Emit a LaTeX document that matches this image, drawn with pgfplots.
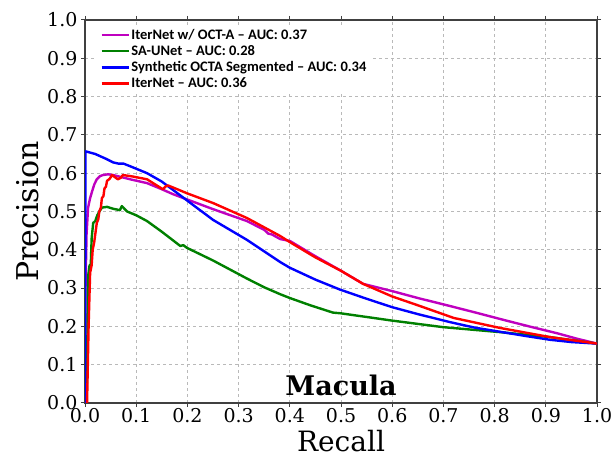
\documentclass[border=0pt]{standalone}
\usepackage{fontspec}
\setmainfont{DejaVu Serif}
\newfontfamily\legfont{Carlito}
\usepackage{pgfplots}
\pgfplotsset{compat=1.18}
\definecolor{mplmag}{rgb}{0.75,0,0.75}
\definecolor{mplgreen}{rgb}{0,0.5,0}

\begin{document}
\begin{tikzpicture}
\begin{axis}[
  width=512pt, height=383pt, scale only axis,
  xmin=0, xmax=1, ymin=0, ymax=1,
  xtick={0,0.1,0.2,0.3,0.4,0.5,0.6,0.7,0.8,0.9,1.0},
  ytick={0,0.1,0.2,0.3,0.4,0.5,0.6,0.7,0.8,0.9,1.0},
  /pgf/number format/assume math mode=true,
  /pgf/number format/fixed, /pgf/number format/fixed zerofill,
  /pgf/number format/precision=1,
  ticklabel style={font=\fontsize{19}{19}\selectfont},
  xticklabel style={yshift=2pt},
  tick align=outside, major tick length=4pt,
  tick style={black!75, line width=1pt},
  axis line style={black!75, line width=1.3pt},
  grid=major, grid style={dashed, gray!55, line width=0.8pt},
  xlabel={Recall}, ylabel={Precision},
  label style={font=\fontsize{28}{28}\selectfont},
  ylabel style={font=\fontsize{30}{30}\selectfont, yshift=1pt},
  legend style={at={(0.024,0.985)}, anchor=north west, draw=none, fill=white,
    font=\legfont\bfseries\fontsize{14.5}{15}\selectfont, row sep=1.5pt,
    nodes={inner sep=1.5pt}},
  legend cell align=left,
  legend image code/.code={\draw[#1, line width=2.4pt] (0pt,0pt) -- (27pt,0pt);},
  every axis plot/.append style={line width=2.4pt, line join=round},
]
\addplot[mplmag] coordinates {
(0,0)(0.001,0.30)(0.003,0.44)(0.006,0.51)(0.010,0.535)(0.014,0.553)(0.018,0.57)
(0.023,0.584)(0.029,0.592)(0.035,0.595)(0.045,0.597)(0.055,0.595)(0.07,0.59)
(0.088,0.584)(0.121,0.574)(0.15,0.558)(0.172,0.545)(0.21,0.526)(0.25,0.506)
(0.316,0.475)(0.35,0.452)(0.358,0.442)(0.365,0.44)(0.381,0.428)(0.40,0.423)
(0.45,0.383)(0.50,0.345)(0.543,0.311)(0.60,0.292)(0.65,0.274)(0.713,0.253)
(0.76,0.237)(0.82,0.216)(0.87,0.199)(0.922,0.182)(0.96,0.168)(1.0,0.155)
};
\addlegendentry{IterNet w/ OCT-A \textendash{} AUC: 0.37}
\addplot[mplgreen] coordinates {
(0.003,0)(0.005,0.2)(0.006,0.33)(0.009,0.36)(0.011,0.35)(0.013,0.43)(0.016,0.47)
(0.02,0.475)(0.024,0.49)(0.028,0.5)(0.033,0.51)(0.043,0.512)(0.055,0.507)
(0.0625,0.505)(0.068,0.503)(0.072,0.514)(0.082,0.50)(0.1,0.49)(0.121,0.475)
(0.15,0.447)(0.186,0.41)(0.192,0.412)(0.199,0.405)(0.25,0.372)(0.316,0.325)
(0.35,0.302)(0.381,0.284)(0.40,0.274)(0.44,0.255)(0.484,0.236)(0.50,0.234)
(0.60,0.215)(0.699,0.198)(0.81,0.185)(0.908,0.172)(1.0,0.155)
};
\addlegendentry{SA-UNet \textendash{} AUC: 0.28}
\addplot[blue] coordinates {
(0,0)(0.001,0.657)(0.02,0.65)(0.04,0.638)(0.055,0.628)(0.065,0.625)(0.075,0.625)
(0.09,0.617)(0.121,0.60)(0.15,0.578)(0.172,0.556)(0.21,0.518)(0.25,0.478)
(0.316,0.426)(0.381,0.368)(0.40,0.353)(0.45,0.322)(0.498,0.296)(0.55,0.272)
(0.60,0.25)(0.65,0.232)(0.713,0.211)(0.76,0.197)(0.81,0.186)(0.86,0.175)
(0.908,0.165)(0.95,0.159)(1.0,0.155)
};
\addlegendentry{Synthetic OCTA Segmented \textendash{} AUC: 0.34}
\addplot[red] coordinates {
(0.004,0)(0.007,0.2)(0.01,0.34)(0.013,0.36)(0.015,0.40)(0.018,0.42)(0.02,0.44)
(0.023,0.47)(0.026,0.48)(0.028,0.50)(0.031,0.51)(0.033,0.535)(0.036,0.54)
(0.038,0.56)(0.041,0.565)(0.043,0.58)(0.048,0.585)(0.053,0.595)(0.058,0.59)
(0.064,0.584)(0.07,0.588)(0.074,0.595)(0.09,0.592)(0.121,0.584)(0.152,0.558)
(0.158,0.566)(0.162,0.568)(0.2,0.547)(0.25,0.522)(0.316,0.483)(0.381,0.436)
(0.40,0.42)(0.45,0.38)(0.50,0.345)(0.543,0.311)(0.60,0.278)(0.65,0.255)
(0.72,0.222)(0.81,0.196)(0.908,0.172)(1.0,0.155)
};
\addlegendentry{IterNet \textendash{} AUC: 0.36}
\node[font=\bfseries\fontsize{27}{27}\selectfont] at (axis cs:0.5,0.045) {Macula};
\coordinate (bl) at (rel axis cs:-0.166,-0.1436);
\coordinate (tr) at (rel axis cs:1.033,1.052);
\end{axis}
\pgfresetboundingbox
\useasboundingbox (bl) rectangle (tr);
\end{tikzpicture}
\end{document}
